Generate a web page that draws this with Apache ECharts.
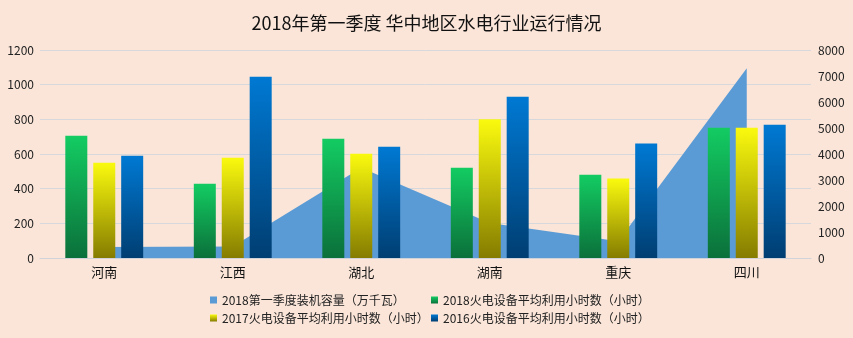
<!DOCTYPE html>
<html><head><meta charset="utf-8">
<script src="https://cdn.jsdelivr.net/npm/echarts@6/dist/echarts.min.js"></script>
<style>html,body{margin:0;padding:0;background:#FAE5D8;}#c{width:853px;height:338px;}</style>
</head><body><div id="c"></div>
<script>
const categories = ['河南','江西','湖北','湖南','重庆','四川'];
const capacity2018 = [420, 440, 3470, 1350, 640, 7300];
const hours2018 = [705, 429, 688, 521, 481, 752];
const hours2017 = [550, 579, 602, 800, 458, 752];
const hours2016 = [590, 1046, 642, 931, 660, 769];
const leftTicks = [0, 1200, 200];
const rightTicks = [0, 8000, 1000];
const names = ['2018第一季度装机容量（万千瓦）','2018火电设备平均利用小时数（小时）','2017火电设备平均利用小时数（小时）','2016火电设备平均利用小时数（小时）'];

function grad(top, bottom){
  return new echarts.graphic.LinearGradient(0,0,0,1,[{offset:0,color:top},{offset:1,color:bottom}]);
}
const font = '"Noto Sans CJK SC", "Noto Sans", sans-serif';
const chart = echarts.init(document.getElementById('c'), null, {renderer:'canvas'});
const legendBase = {itemWidth:7, itemHeight:7, itemGap:5, icon:'rect', textStyle:{fontSize:12, color:'#222', fontFamily:font}, padding:0};
const plain = v => String(v);
chart.setOption({
  backgroundColor:'#FAE5D8',
  animation:false,
  title:{text:'2018年第一季度 华中地区水电行业运行情况', left:'center', top:9, textStyle:{fontSize:18, fontWeight:'normal', color:'#111', fontFamily:font}},
  legend:[
    Object.assign({data:[names[0]], left:210, top:294}, legendBase),
    Object.assign({data:[names[1]], left:431, top:294}, legendBase),
    Object.assign({data:[names[2]], left:210, top:312}, legendBase),
    Object.assign({data:[names[3]], left:431, top:312}, legendBase)
  ],
  grid:{left:40, right:42, top:50, bottom:80},
  xAxis:{type:'category', data:categories, boundaryGap:true,
    axisLine:{lineStyle:{color:'#D0D4DA'}}, axisTick:{show:false},
    axisLabel:{fontSize:13, color:'#111', fontFamily:font, margin:8}},
  yAxis:[
    {type:'value', min:leftTicks[0], max:leftTicks[1], interval:leftTicks[2],
     axisLine:{show:false}, axisTick:{show:false},
     axisLabel:{fontSize:12, color:'#222', fontFamily:font, margin:6, formatter:plain},
     splitLine:{lineStyle:{color:'#D6D8DC'}}},
    {type:'value', min:rightTicks[0], max:rightTicks[1], interval:rightTicks[2],
     axisLine:{show:false}, axisTick:{show:false},
     axisLabel:{fontSize:12, color:'#222', fontFamily:font, margin:7, formatter:plain},
     splitLine:{show:false}}
  ],
  series:[
    {name:names[0], type:'line', yAxisIndex:1, data:capacity2018, symbol:'none',
     lineStyle:{width:0, color:'#5B9BD5'}, itemStyle:{color:'#5B9BD5'},
     areaStyle:{color:'#5B9BD5', opacity:1}, z:1},
    {name:names[1], type:'bar', yAxisIndex:0, data:hours2018, barWidth:22, barGap:'27%',
     itemStyle:{color:grad('#13CC62','#0B703A')}, z:2},
    {name:names[2], type:'bar', yAxisIndex:0, data:hours2017, barWidth:22, barGap:'27%',
     itemStyle:{color:grad('#FAFA0E','#857C00')}, z:2},
    {name:names[3], type:'bar', yAxisIndex:0, data:hours2016, barWidth:22, barGap:'27%',
     itemStyle:{color:grad('#0079D3','#003E72')}, z:2}
  ]
});
</script></body></html>
